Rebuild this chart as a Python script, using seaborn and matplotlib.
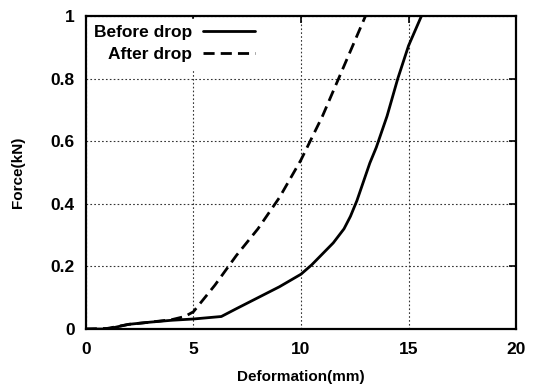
import matplotlib
matplotlib.use("Agg")
import matplotlib.pyplot as plt
import seaborn as sns
import pandas as pd

before_x = [0, 1, 2, 3, 4, 5, 6.3, 7, 8, 9, 10, 10.5, 11, 11.5, 12, 12.3, 12.6, 12.9, 13.2, 13.5, 14, 14.5, 15, 15.6]
before_y = [0, 0.0, 0.015, 0.022, 0.028, 0.032, 0.04, 0.065, 0.1, 0.135, 0.175, 0.205, 0.24, 0.275, 0.32, 0.36, 0.41, 0.47, 0.53, 0.58, 0.68, 0.8, 0.905, 1.0]
after_x = [0, 1, 2, 3, 4, 4.6, 5, 6, 7, 8, 9, 10, 11, 12, 13]
after_y = [0, 0.002, 0.015, 0.022, 0.03, 0.04, 0.055, 0.14, 0.235, 0.32, 0.42, 0.54, 0.68, 0.84, 1.0]
x_ticks = [0, 5, 10, 15, 20]
y_ticks = [0, 0.2, 0.4, 0.6, 0.8, 1]
y_tick_labels = ["0", "0.2", "0.4", "0.6", "0.8", "1"]

sns.set_theme(style="white")
plt.rcParams['font.family'] = ['Liberation Sans', 'DejaVu Sans']
plt.rcParams['font.weight'] = 'bold'
plt.rcParams['text.color'] = 'black'
plt.rcParams['axes.labelcolor'] = 'black'

df = pd.concat([
    pd.DataFrame({"x": before_x, "y": before_y, "s": "Before drop"}),
    pd.DataFrame({"x": after_x, "y": after_y, "s": "After drop"}),
])

fig = plt.figure(figsize=(5.36, 3.88), dpi=100)
ax = fig.add_axes([0.160, 0.152, 0.803, 0.807])
sns.lineplot(data=df, x="x", y="y", hue="s", style="s",
             palette={"Before drop": "black", "After drop": "black"},
             dashes={"Before drop": "", "After drop": (4, 2.2)},
             linewidth=2.0, ax=ax, sort=False, estimator=None)

ax.set_xlim(0, 20)
ax.set_ylim(0, 1)
ax.set_xticks(x_ticks)
ax.set_yticks(y_ticks)
ax.set_yticklabels(y_tick_labels)
ax.tick_params(axis='both', direction='in', length=5, width=1.2, colors='black',
               labelsize=12.5, top=True, right=True)
ax.tick_params(axis='x', pad=9)
ax.tick_params(axis='y', pad=8)
for lab in ax.get_xticklabels() + ax.get_yticklabels():
    lab.set_fontweight('bold')
ax.grid(True, linestyle=(0, (1.5, 2)), color='#333333', linewidth=0.8)
for sp in ax.spines.values():
    sp.set_color('black')
    sp.set_linewidth(1.6)
ax.set_xlabel("Deformation(mm)", fontsize=11, fontweight='bold', labelpad=10, color='black')
ax.set_ylabel("Force(kN)", fontsize=11, fontweight='bold', labelpad=18, color='black')

leg = ax.legend(loc='upper left', bbox_to_anchor=(0.005, 0.99), frameon=True, fancybox=False,
                markerfirst=False, fontsize=12.5, handlelength=3.0, handletextpad=0.6,
                borderaxespad=0.0, borderpad=0.35, labelspacing=0.4, framealpha=1,
                edgecolor='white')
for t in leg.get_texts():
    t.set_fontweight('bold')
    t.set_color('black')
leg._legend_box.align = "right"

fig.savefig("out.png", dpi=100)
